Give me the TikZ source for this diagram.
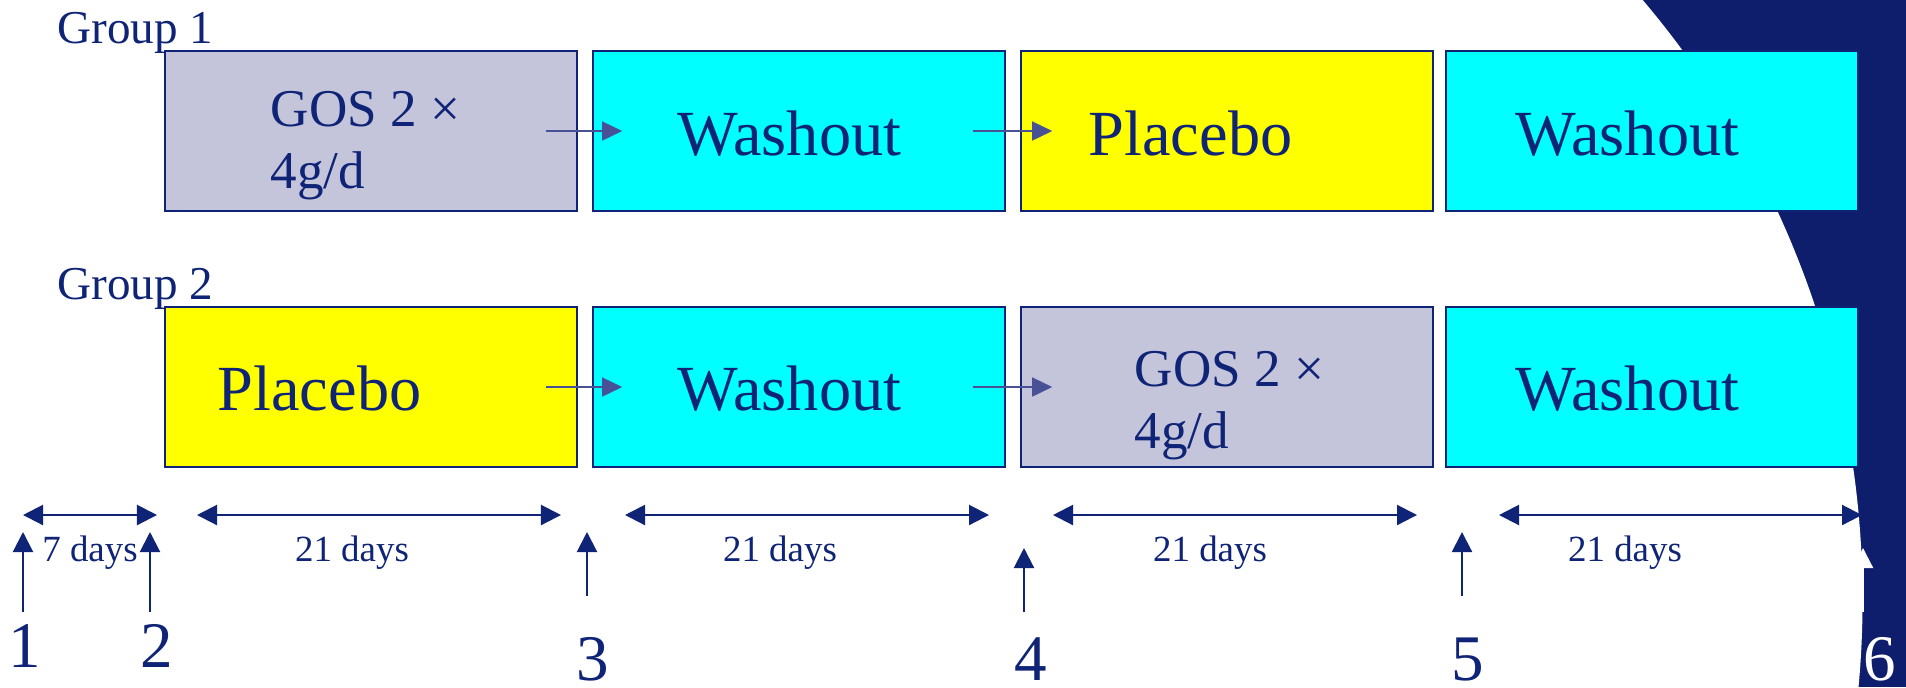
\documentclass[tikz,border=0pt]{standalone}
\usepackage{fontspec}
\setmainfont{Liberation Serif}
\usetikzlibrary{arrows.meta}

\definecolor{navy}{RGB}{15,36,118}
\definecolor{deepnavy}{RGB}{14,30,108}
\definecolor{gosgrey}{RGB}{196,196,218}
\definecolor{flowblue}{RGB}{72,80,150}
\definecolor{washcyan}{RGB}{0,255,255}
\definecolor{placyellow}{RGB}{255,255,0}

\tikzset{
  period/.style={draw=navy, line width=0.4pt, minimum width=4.12cm, minimum height=1.6cm, inner sep=0pt},
  bigtxt/.style={text=navy, anchor=base west, inner sep=0pt, font=\fontsize{18.3}{20}\selectfont},
  dosetxt/.style={text=navy, anchor=base west, inner sep=0pt, align=left, font=\fontsize{15.1}{17.6}\selectfont},
  grptxt/.style={text=navy, anchor=base west, inner sep=0pt, font=\fontsize{13.4}{16}\selectfont},
  daytxt/.style={text=navy, anchor=base, inner sep=0pt, font=\fontsize{10.5}{12}\selectfont},
  numtxt/.style={text=navy, anchor=base, inner sep=0pt, font=\fontsize{18.5}{22}\selectfont},
  flow/.style={draw=flowblue, line width=0.45pt, -{Triangle[length=0.2cm,width=0.19cm]}},
  span/.style={draw=navy, line width=0.6pt, {Triangle[length=0.2cm,width=0.2cm]}-{Triangle[length=0.2cm,width=0.2cm]}},
  visit/.style={draw=navy, line width=0.6pt, -{Triangle[length=0.2cm,width=0.2cm]}}
}

\begin{document}
\begin{tikzpicture}[x=0.01cm,y=-0.01cm]
\useasboundingbox (0,0) rectangle (1906,687);

% backdrop
\fill[deepnavy] (1600,0) rectangle (1906,687);
\fill[white] (934,600) circle (9.28cm);

% group 1
\node[grptxt] (grp1) at (57,43) {Group 1};
\node[period, fill=gosgrey] (g1a) at (371,131) {};
\node[period, fill=washcyan] (g1b) at (799,131) {};
\node[period, fill=placyellow] (g1c) at (1227,131) {};
\node[period, fill=washcyan] (g1d) at (1652,131) {};
\node[dosetxt] (t1a) at (270,188) {GOS 2 ×\\4g/d};
\node[bigtxt] (t1b) at (677,155) {Washout};
\node[bigtxt] (t1c) at (1088,155) {Placebo};
\node[bigtxt] (t1d) at (1515,155) {Washout};
\draw[flow] ([xshift=-0.32cm]g1a.east) -- ([xshift=0.3cm]g1b.west);
\draw[flow] ([xshift=-0.33cm]g1b.east) -- ([xshift=0.32cm]g1c.west);

% group 2
\node[grptxt] (grp2) at (57,299) {Group 2};
\node[period, fill=placyellow] (g2a) at (371,387) {};
\node[period, fill=washcyan] (g2b) at (799,387) {};
\node[period, fill=gosgrey] (g2c) at (1227,387) {};
\node[period, fill=washcyan] (g2d) at (1652,387) {};
\node[bigtxt] (t2a) at (217,410) {Placebo};
\node[bigtxt] (t2b) at (677,410) {Washout};
\node[dosetxt] (t2c) at (1134,448) {GOS 2 ×\\4g/d};
\node[bigtxt] (t2d) at (1515,410) {Washout};
\draw[flow] ([xshift=-0.32cm]g2a.east) -- ([xshift=0.3cm]g2b.west);
\draw[flow] ([xshift=-0.33cm]g2b.east) -- ([xshift=0.32cm]g2c.west);

% durations
\coordinate (s0l) at (23,515);   \coordinate (s0r) at (157,515);
\coordinate (s1l) at (197,515);  \coordinate (s1r) at (561,515);
\coordinate (s2l) at (625,515);  \coordinate (s2r) at (989,515);
\coordinate (s3l) at (1053,515); \coordinate (s3r) at (1417,515);
\coordinate (s4l) at (1499,515); \coordinate (s4r) at (1862,515);
\draw[span] (s0l) -- (s0r);
\draw[span] (s1l) -- (s1r);
\draw[span] (s2l) -- (s2r);
\draw[span] (s3l) -- (s3r);
\draw[span] (s4l) -- (s4r);
\node[daytxt] (d0) at (90,561) {7 days};
\node[daytxt] (d1) at (352,561) {21 days};
\node[daytxt] (d2) at (780,561) {21 days};
\node[daytxt] (d3) at (1210,561) {21 days};
\node[daytxt] (d4) at (1625,561) {21 days};

% visits
\coordinate (v1b) at (23,612);   \coordinate (v1t) at (23,532);
\coordinate (v2b) at (150,612);  \coordinate (v2t) at (150,532);
\coordinate (v3b) at (587,596);  \coordinate (v3t) at (587,532);
\coordinate (v4b) at (1024,612); \coordinate (v4t) at (1024,548);
\coordinate (v5b) at (1462,596); \coordinate (v5t) at (1462,532);
\coordinate (v6b) at (1863,612); \coordinate (v6t) at (1863,548);
\draw[visit] (v1b) -- (v1t);
\draw[visit] (v2b) -- (v2t);
\draw[visit] (v3b) -- (v3t);
\draw[visit] (v4b) -- (v4t);
\draw[visit] (v5b) -- (v5t);
\draw[visit, draw=white] (v6b) -- (v6t);
\node[numtxt] (n1) at (25,667) {1};
\node[numtxt] (n2) at (157,667) {2};
\node[numtxt] (n3) at (593,680) {3};
\node[numtxt] (n4) at (1031,680) {4};
\node[numtxt] (n5) at (1468,680) {5};
\node[numtxt, text=white] (n6) at (1880,680) {6};
\end{tikzpicture}
\end{document}
